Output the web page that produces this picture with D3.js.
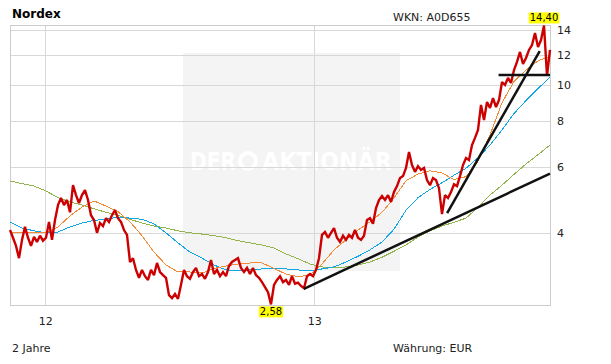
<!DOCTYPE html>
<html>
<head>
<meta charset="utf-8">
<title>Nordex</title>
<script src="https://d3js.org/d3.v7.min.js"></script>
<style>
  body { margin: 0; background: #fff; }
  svg text { font-family: "DejaVu Sans", Verdana, sans-serif; }
</style>
</head>
<body>
<svg id="chart" width="611" height="364"></svg>
<script>
// price, sampled every 98 hours from the start date
var priceStart = new Date(2011, 10, 14);
var priceStepHours = 98;
var price = [
  4.08, 3.89, 3.70, 3.43, 3.84, 4.16, 3.89, 3.70, 3.91, 3.79,
  3.94, 3.82, 3.89, 4.29, 3.84, 4.34, 4.76, 4.97, 4.76, 4.91,
  4.55, 5.38, 5.06, 4.82, 5.06, 5.22, 4.91, 4.47, 4.34, 4.01,
  4.26, 4.18, 4.39, 4.29, 4.47, 4.61, 4.39, 4.29, 4.08, 3.96,
  3.35, 3.43, 3.19, 3.04, 3.19, 3.07, 3.00, 3.19, 3.09, 3.33,
  3.15, 3.09, 3.04, 2.73, 2.68, 2.75, 2.67, 2.91, 3.19, 3.07,
  3.02, 3.15, 3.23, 3.07, 3.11, 3.02, 3.15, 3.39, 3.11, 3.19,
  3.07, 3.15, 3.07, 3.27, 3.35, 3.39, 3.43, 3.23, 3.15, 3.23,
  3.11, 3.23, 3.09, 3.04, 2.96, 2.87, 2.78, 2.58, 2.91, 3.00,
  3.07, 2.96, 3.00, 2.91, 3.07, 2.93, 2.95, 2.89, 2.85, 3.07,
  3.11, 3.07, 3.19, 3.43, 3.96, 4.03, 3.89, 4.01, 4.13, 3.89,
  3.79, 3.94, 3.84, 3.96, 3.89, 4.08, 3.89, 3.84, 3.94, 4.34,
  4.39, 4.24, 4.67, 4.91, 5.03, 4.91, 5.06, 4.85, 5.16, 5.35,
  5.62, 5.69, 5.98, 6.60, 6.09, 5.84, 6.05, 5.91, 5.98, 5.55,
  5.38, 5.62, 5.55, 5.28, 4.50, 5.06, 4.97, 5.16, 5.41, 5.35,
  5.69, 6.09, 6.36, 6.28, 6.89, 7.20, 7.56, 8.82, 8.04, 8.98,
  8.66, 9.20, 8.71, 9.09, 10.16, 9.98, 10.42, 10.10, 10.94, 11.50,
  12.23, 11.35, 11.78, 12.38, 12.76, 13.74, 12.61, 13.16, 14.40, 10.55,
  12.38
];

// moving averages, sampled every 392 hours
var maStepHours = 392;
var ma38 = [
  4.03, 4.03, 4.03, 4.01, 4.16, 4.45, 4.70, 4.88, 4.73, 4.57,
  4.29, 3.94, 3.56, 3.29, 3.15, 3.15, 3.13, 3.22, 3.27, 3.31,
  3.33, 3.33, 3.22, 3.11, 3.06, 3.09, 3.31, 3.61, 3.84, 4.08,
  4.29, 4.55, 4.97, 5.53, 5.76, 5.88, 5.80, 5.57, 5.67, 6.24,
  7.33, 8.94, 10.20, 10.94, 11.57, 11.92
];
var ma100 = [
  4.29, 4.13, 4.06, 4.01, 4.03, 4.16, 4.26, 4.33, 4.36, 4.42,
  4.39, 4.36, 4.24, 4.01, 3.77, 3.56, 3.43, 3.29, 3.19, 3.17,
  3.19, 3.21, 3.21, 3.21, 3.19, 3.17, 3.21, 3.25, 3.35, 3.47,
  3.61, 3.79, 4.10, 4.61, 4.98, 5.24, 5.46, 5.72, 5.97, 6.37,
  6.89, 7.56, 8.37, 9.06, 9.76, 10.46
];
var ma200 = [
  5.52, 5.43, 5.35, 5.19, 4.98, 4.85, 4.76, 4.65, 4.55, 4.47,
  4.36, 4.26, 4.18, 4.13, 4.06, 4.01, 3.98, 3.94, 3.89, 3.82,
  3.77, 3.72, 3.65, 3.52, 3.42, 3.31, 3.25, 3.23, 3.25, 3.29,
  3.35, 3.45, 3.58, 3.72, 3.91, 4.06, 4.18, 4.28, 4.39, 4.69,
  5.06, 5.38, 5.75, 6.13, 6.49, 6.89
];

// drawn trend lines
var trendLines = [
  [["2012-12-18", 2.84], ["2013-11-18", 5.78]],
  [["2013-07-01", 4.53], ["2013-11-04", 12.30]],
  [["2013-09-09", 10.61], ["2013-11-18", 10.61]]
];

var yTicks = [4, 6, 8, 10, 12, 14];
var xTicks = ["2012-01-01", "2013-01-01"];

var svg = d3.select("#chart");
var plotL = 10, plotR = 550, plotT = 25, plotB = 305;

var parse = d3.timeParse("%Y-%m-%d");
var x = d3.scaleTime()
    .domain([new Date(2011, 10, 14), new Date(2013, 10, 18)])
    .range([plotL, plotR]);
var y = d3.scaleLog()
    .domain([2.57, 14.44])
    .range([plotB, plotT]);

var priceData = price.map(function(v, i) {
    return { date: d3.timeHour.offset(priceStart, i * priceStepHours), value: v };
});
function maData(arr) {
    return arr.map(function(v, i) {
        return { date: d3.timeHour.offset(priceStart, i * maStepHours), value: v };
    });
}

// watermark
svg.append("rect")
    .attr("x", 183).attr("y", 53)
    .attr("width", 217).attr("height", 218)
    .attr("fill", "#f4f4f4");
var wm = svg.append("g").attr("fill", "#fff")
    .style("font-weight", "bold").style("font-size", "25px");
wm.append("text").attr("x", 190).attr("y", 170)
    .attr("textLength", 46).attr("lengthAdjust", "spacingAndGlyphs").text("DER");
wm.append("circle").attr("cx", 248).attr("cy", 161).attr("r", 8)
    .attr("fill", "none").attr("stroke", "#fff").attr("stroke-width", 4);
wm.append("text").attr("x", 262).attr("y", 170)
    .attr("textLength", 130).attr("lengthAdjust", "spacingAndGlyphs").text("AKTIONÄR");

// grid
svg.append("g").selectAll("line").data(yTicks).enter().append("line")
    .attr("x1", plotL).attr("x2", plotR)
    .attr("y1", function(d) { return Math.round(y(d)) + 0.5; })
    .attr("y2", function(d) { return Math.round(y(d)) + 0.5; })
    .attr("stroke", "#d8d8d8");
svg.append("g").selectAll("line").data(xTicks).enter().append("line")
    .attr("x1", function(d) { return Math.round(x(parse(d))) + 0.5; })
    .attr("x2", function(d) { return Math.round(x(parse(d))) + 0.5; })
    .attr("y1", plotT).attr("y2", plotB)
    .attr("stroke", "#d8d8d8");
svg.append("rect")
    .attr("x", plotL + 0.5).attr("y", plotT + 0.5)
    .attr("width", plotR - plotL).attr("height", plotB - plotT)
    .attr("fill", "none").attr("stroke", "#cccccc");

var line = d3.line()
    .x(function(d) { return x(d.date); })
    .y(function(d) { return y(d.value); });

svg.append("path").datum(maData(ma200)).attr("d", line)
    .attr("fill", "none").attr("stroke", "#93b44c").attr("stroke-width", 1)
    .attr("shape-rendering", "crispEdges");
svg.append("path").datum(maData(ma100)).attr("d", line)
    .attr("fill", "none").attr("stroke", "#0ea6e6").attr("stroke-width", 1)
    .attr("shape-rendering", "crispEdges");
svg.append("path").datum(maData(ma38)).attr("d", line)
    .attr("fill", "none").attr("stroke", "#f58a36").attr("stroke-width", 1)
    .attr("shape-rendering", "crispEdges");

svg.append("path").datum(priceData).attr("d", line)
    .attr("fill", "none").attr("stroke", "#cc0000").attr("stroke-width", 2.4)
    .attr("stroke-linejoin", "miter").attr("stroke-miterlimit", 2);

trendLines.forEach(function(t) {
    svg.append("path")
        .datum(t.map(function(p) { return { date: parse(p[0]), value: p[1] }; }))
        .attr("d", line)
        .attr("fill", "none").attr("stroke", "#111").attr("stroke-width", 2.5);
});

// axes
var yAxis = svg.append("g")
    .attr("transform", "translate(" + plotR + ",0)")
    .call(d3.axisRight(y).tickValues(yTicks).tickSize(0).tickPadding(7)
        .tickFormat(d3.format("d")));
yAxis.select(".domain").remove();
yAxis.selectAll("text").style("font-size", "11px").attr("fill", "#222");

var xAxis = svg.append("g")
    .attr("transform", "translate(0," + plotB + ")")
    .call(d3.axisBottom(x).tickValues(xTicks.map(parse)).tickSize(0).tickPadding(12)
        .tickFormat(d3.timeFormat("%y")));
xAxis.select(".domain").remove();
xAxis.selectAll("text").style("font-size", "11px").attr("fill", "#222");

// high / low labels
var de = d3.formatLocale({ decimal: ",", thousands: ".", grouping: [3], currency: ["", " €"] });
var fmt = de.format(".2f");
function flag(d, above) {
    var g = svg.append("g");
    var t = g.append("text")
        .attr("x", x(d.date)).attr("text-anchor", "middle")
        .style("font-size", "10px").attr("fill", "#000")
        .text(fmt(d.value));
    var yy = above ? y(d.value) - 4 : y(d.value) + 11;
    t.attr("y", yy);
    var b = t.node().getBBox();
    g.insert("rect", "text")
        .attr("x", b.x - 1).attr("y", b.y)
        .attr("width", b.width + 2).attr("height", b.height)
        .attr("fill", "#ffff00");
}
flag(priceData.reduce(function(a, b) { return b.value > a.value ? b : a; }), true);
flag(priceData.reduce(function(a, b) { return b.value < a.value ? b : a; }), false);

// titles
svg.append("text").attr("x", 12).attr("y", 18)
    .style("font-size", "12px").style("font-weight", "bold").attr("fill", "#000")
    .text("Nordex");
svg.append("text").attr("x", 393).attr("y", 21)
    .style("font-size", "11px").attr("fill", "#222").text("WKN: A0D655");
svg.append("text").attr("x", 12).attr("y", 352)
    .style("font-size", "11px").attr("fill", "#222").text("2 Jahre");
svg.append("text").attr("x", 393).attr("y", 352)
    .style("font-size", "11px").attr("fill", "#222").text("Währung: EUR");
</script>
</body>
</html>
